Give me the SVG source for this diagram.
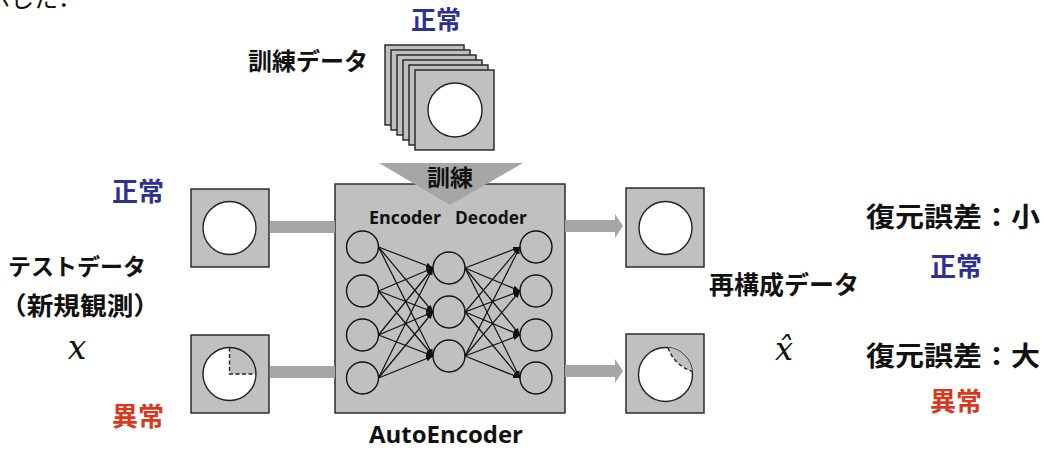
<svg xmlns="http://www.w3.org/2000/svg" width="1044" height="450" viewBox="0 0 1044 450">
<style>
.jp{font-family:"Noto Sans CJK JP","Noto Sans",sans-serif;font-weight:700;fill:#111}
.blue{fill:#2e3192}
.red{fill:#d9381e}
.frame{fill:#c0c0c0;stroke:#222;stroke-width:1.4}
.img{fill:#fff;stroke:#222;stroke-width:1.4}
.bar{fill:#a6a6a6}
.neuron{fill:none;stroke:#111;stroke-width:1.4}
.edge{stroke:#111;stroke-width:1.2;fill:none;marker-end:url(#ah)}
.lat{font-family:"Open Sans","Liberation Sans",sans-serif;font-weight:700;fill:#111}
.math{font-family:"DejaVu Serif","Liberation Serif",serif;font-style:italic;fill:#111}
.dash{fill:none;stroke:#222;stroke-width:1.4;stroke-dasharray:4 2.5}
</style>
<defs>
<marker id="ah" viewBox="0 0 10 10" refX="10" refY="5" markerWidth="7" markerHeight="7" markerUnits="userSpaceOnUse" orient="auto"><path d="M0,1 L10,5 L0,9 z" fill="#111"/></marker>
</defs>

<text class="jp" x="-14" y="7" font-size="24" style="font-weight:400">示した．</text>

<g id="training-data">
<text class="jp blue" x="436" y="29" font-size="25" text-anchor="middle">正常</text>
<text class="jp" x="308" y="70" font-size="24" text-anchor="middle">訓練データ</text>
<rect class="frame" x="385" y="45" width="79" height="80"/>
<rect class="frame" x="391" y="50" width="79" height="80"/>
<rect class="frame" x="397" y="55" width="79" height="80"/>
<rect class="frame" x="403" y="60" width="79" height="80"/>
<rect class="frame" x="409" y="65" width="79" height="80"/>
<rect class="frame" x="415" y="70" width="79" height="80"/>
<circle class="img" cx="455" cy="110" r="27"/>
</g>

<g id="input-normal">
<text class="jp blue" x="138" y="201" font-size="26" text-anchor="middle">正常</text>
<rect class="frame" x="191" y="189" width="78" height="78"/>
<circle class="img" cx="229.5" cy="228" r="26.5"/>
</g>

<g id="test-data-label">
<text class="jp" x="77" y="275" font-size="23" text-anchor="middle">テストデータ</text>
<text class="jp" x="0" y="315" font-size="25" textLength="160" lengthAdjust="spacingAndGlyphs">（新規観測）</text>
<text class="math" x="77" y="359" font-size="33" text-anchor="middle">x</text>
</g>

<g id="input-anomaly">
<text class="jp red" x="138" y="426" font-size="26" text-anchor="middle">異常</text>
<rect class="frame" x="191" y="335" width="78" height="78"/>
<path d="M229.5,374 L229.5,347.5 A26.5,26.5 0 1,0 256,374 Z" fill="#fff"/>
<circle cx="229.5" cy="374" r="26.5" fill="none" stroke="#222" stroke-width="1.4"/>
<path class="dash" d="M229.5,347.5 L229.5,374 L256,374"/>
</g>

<g id="autoencoder">
<rect x="335" y="184" width="230" height="229" fill="#c0c0c0" stroke="#222" stroke-width="1.4"/>
<polygon points="379,163 523,163 450,205" fill="#a6a6a6"/>
<text class="jp" x="450" y="186" font-size="23" text-anchor="middle">訓練</text>
<text class="lat" x="369" y="224" font-size="17" textLength="72" lengthAdjust="spacingAndGlyphs">Encoder</text>
<text class="lat" x="455" y="224" font-size="17" textLength="72" lengthAdjust="spacingAndGlyphs">Decoder</text>
<g id="neurons">
<circle class="neuron" cx="362.5" cy="247" r="16"/>
<circle class="neuron" cx="362.5" cy="291" r="16"/>
<circle class="neuron" cx="362.5" cy="335" r="16"/>
<circle class="neuron" cx="362.5" cy="378" r="16"/>
<circle class="neuron" cx="449" cy="268" r="16"/>
<circle class="neuron" cx="449" cy="312" r="16"/>
<circle class="neuron" cx="449" cy="356" r="16"/>
<circle class="neuron" cx="536" cy="247" r="16"/>
<circle class="neuron" cx="536" cy="291" r="16"/>
<circle class="neuron" cx="536" cy="335" r="16"/>
<circle class="neuron" cx="536" cy="378" r="16"/>
</g>
<g id="weights">
<line class="edge" x1="378.5" y1="247" x2="433" y2="268"/>
<line class="edge" x1="378.5" y1="247" x2="433" y2="312"/>
<line class="edge" x1="378.5" y1="247" x2="433" y2="356"/>
<line class="edge" x1="378.5" y1="291" x2="433" y2="268"/>
<line class="edge" x1="378.5" y1="291" x2="433" y2="312"/>
<line class="edge" x1="378.5" y1="291" x2="433" y2="356"/>
<line class="edge" x1="378.5" y1="335" x2="433" y2="268"/>
<line class="edge" x1="378.5" y1="335" x2="433" y2="312"/>
<line class="edge" x1="378.5" y1="335" x2="433" y2="356"/>
<line class="edge" x1="378.5" y1="378" x2="433" y2="268"/>
<line class="edge" x1="378.5" y1="378" x2="433" y2="312"/>
<line class="edge" x1="378.5" y1="378" x2="433" y2="356"/>
<line class="edge" x1="465" y1="268" x2="520" y2="247"/>
<line class="edge" x1="465" y1="268" x2="520" y2="291"/>
<line class="edge" x1="465" y1="268" x2="520" y2="335"/>
<line class="edge" x1="465" y1="268" x2="520" y2="378"/>
<line class="edge" x1="465" y1="312" x2="520" y2="247"/>
<line class="edge" x1="465" y1="312" x2="520" y2="291"/>
<line class="edge" x1="465" y1="312" x2="520" y2="335"/>
<line class="edge" x1="465" y1="312" x2="520" y2="378"/>
<line class="edge" x1="465" y1="356" x2="520" y2="247"/>
<line class="edge" x1="465" y1="356" x2="520" y2="291"/>
<line class="edge" x1="465" y1="356" x2="520" y2="335"/>
<line class="edge" x1="465" y1="356" x2="520" y2="378"/>
</g>
<text class="lat" x="446" y="443" font-size="24" text-anchor="middle" textLength="154" lengthAdjust="spacingAndGlyphs">AutoEncoder</text>
</g>

<g id="connectors">
<rect class="bar" x="270" y="221" width="65" height="12"/>
<rect class="bar" x="270" y="366" width="65" height="12"/>
<polygon class="bar" points="565,220 615,220 615,214 623,226 615,238 615,232 565,232"/>
<polygon class="bar" points="565,365 615,365 615,359 623,371 615,383 615,377 565,377"/>
</g>

<g id="output-normal">
<rect class="frame" x="626" y="188" width="78" height="79"/>
<circle class="img" cx="665.5" cy="228" r="26.5"/>
</g>

<g id="output-anomaly">
<rect class="frame" x="626" y="334" width="78" height="79"/>
<circle class="img" cx="665.5" cy="374.5" r="27"/>
<path d="M668,347.6 A27,27 0 0,1 692.3,371.5 Q674,365 668,347.6 Z" fill="#c0c0c0"/>
<path class="dash" d="M668,347.6 Q674,365 692.3,371.5"/>
</g>

<g id="reconstruction-label">
<text class="jp" x="784" y="294" font-size="25" text-anchor="middle">再構成データ</text>
<text class="math" x="784" y="360" font-size="32" text-anchor="middle">x̂</text>
</g>

<g id="result-normal">
<text class="jp" x="866" y="227" font-size="27" textLength="174" lengthAdjust="spacingAndGlyphs">復元誤差：小</text>
<text class="jp blue" x="956" y="276" font-size="26" text-anchor="middle">正常</text>
</g>

<g id="result-anomaly">
<text class="jp" x="866" y="366" font-size="27" textLength="174" lengthAdjust="spacingAndGlyphs">復元誤差：大</text>
<text class="jp red" x="956" y="411" font-size="26" text-anchor="middle">異常</text>
</g>
</svg>
